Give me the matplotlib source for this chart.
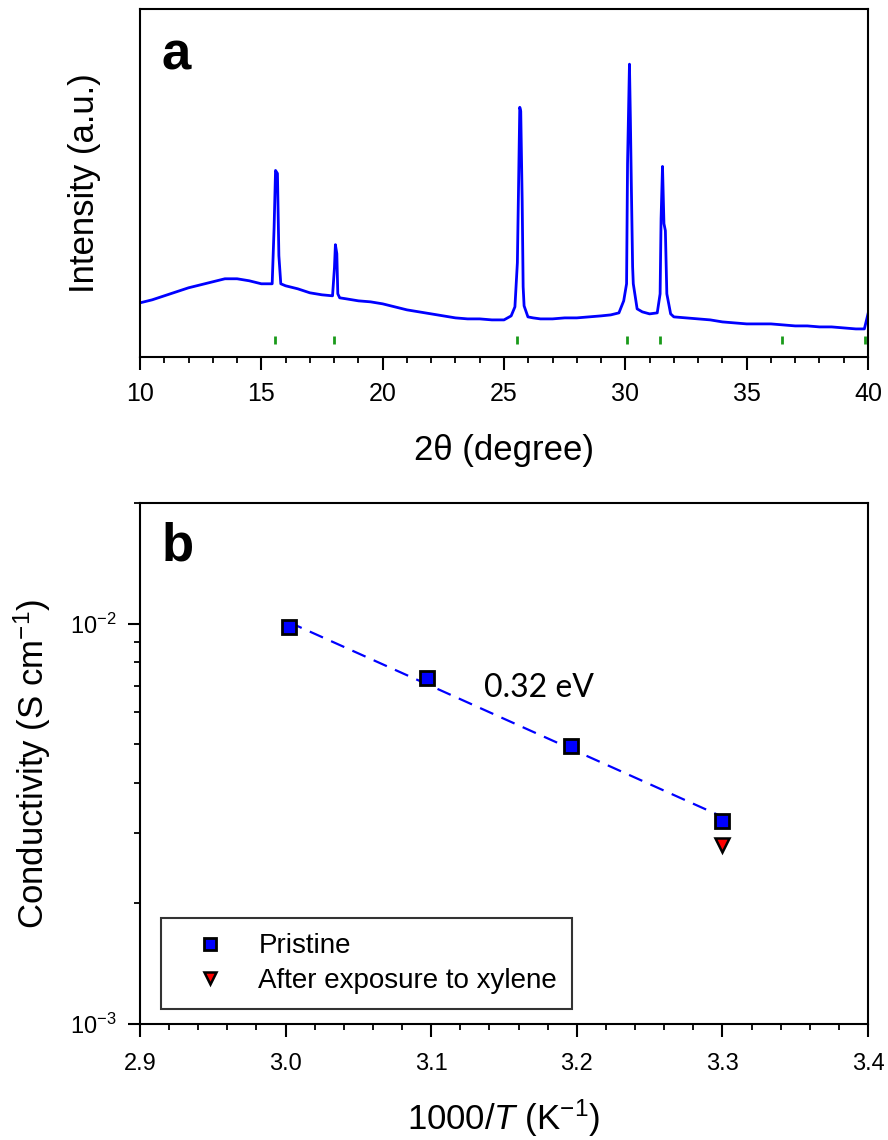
import numpy as np
import matplotlib
matplotlib.use('Agg')
import matplotlib.pyplot as plt
from matplotlib.ticker import MultipleLocator, LogLocator, NullFormatter

plt.rcParams['font.family'] = ['Liberation Sans', 'DejaVu Sans']
plt.rcParams['mathtext.fontset'] = 'custom'
plt.rcParams['mathtext.rm'] = 'Liberation Sans'
plt.rcParams['mathtext.it'] = 'Liberation Sans:italic'
plt.rcParams['mathtext.bf'] = 'Liberation Sans:bold'

# XRD pattern (arbitrary units)
two_theta = [10.0, 10.5, 11.0, 11.5, 12.0, 12.5, 13.0, 13.5, 14.0, 14.5, 15.0,
             15.447, 15.526, 15.585, 15.664, 15.723, 15.802, 16.0, 16.5, 17.0, 17.5,
             17.934, 18.013, 18.052, 18.111, 18.151, 18.23, 18.5, 19.0, 19.5, 20.0,
             20.5, 21.0, 21.5, 22.0, 22.5, 23.0, 23.5, 24.0, 24.5, 25.0,
             25.295, 25.45, 25.551, 25.65, 25.69, 25.749, 25.789, 25.828, 25.986,
             26.2, 26.5, 27.0, 27.5, 28.0, 28.5, 29.0, 29.4,
             29.736, 29.933, 30.051, 30.091, 30.17, 30.209, 30.249, 30.3, 30.328, 30.486,
             30.7, 31.0, 31.315, 31.433, 31.473, 31.532, 31.591, 31.65, 31.71, 31.867,
             32.0, 32.5, 33.0, 33.5, 34.0, 34.5, 35.0, 35.5, 36.0, 36.5, 37.0, 37.5,
             38.0, 38.5, 39.0, 39.5, 39.85, 40.0]
intensity = [54, 57, 61, 65, 69, 72, 75, 78, 78, 76, 73,
             73, 129, 186, 183, 101, 73, 71, 68, 64, 62,
             61, 89, 112, 103, 63, 59, 58, 56, 55, 53,
             50, 47, 45, 43, 41, 39, 38, 38, 37, 37,
             41, 50, 94, 249, 245, 156, 70, 51, 40,
             39, 38, 38, 39, 39, 40, 41, 42,
             44, 56, 73, 193, 292, 236, 169, 90, 73, 48,
             45, 43, 44, 63, 138, 190, 133, 126, 63, 43,
             40, 39, 38, 37, 35, 34, 33, 33, 33, 32, 31, 31,
             30, 30, 29, 28, 28, 43]
ref_peaks = [15.57, 18.01, 25.55, 30.05, 31.43, 36.45, 39.86]

# Conductivity data
inv_T = [3.002, 3.097, 3.196, 3.300]
sigma_pristine = [9.8e-3, 7.3e-3, 4.95e-3, 3.22e-3]
inv_T_xylene = [3.300]
sigma_xylene = [2.80e-3]

W, H = 888, 1140
fig = plt.figure(figsize=(W / 100, H / 100), dpi=100)

def px_axes(l, t, r, b):
    return fig.add_axes([l / W, 1 - b / H, (r - l) / W, (b - t) / H])

# ---- panel a ----
ax1 = px_axes(140, 9, 868, 357)
ax1.plot(two_theta, intensity, color='#0000ff', lw=2.0)
ax1.vlines(ref_peaks, 13, 21, color='#1a9a1a', lw=2)
ax1.set_xlim(10, 40)
ax1.set_ylim(0, 347)
ax1.set_yticks([])
ax1.xaxis.set_major_locator(MultipleLocator(5))
ax1.xaxis.set_minor_locator(MultipleLocator(1))
ax1.tick_params(axis='x', which='major', direction='out', length=9, width=1.5,
                labelsize=18, pad=9)
ax1.tick_params(axis='x', which='minor', direction='out', length=4, width=1.3)
ax1.set_xlabel('2θ (degree)', fontsize=25, labelpad=20)
ax1.set_ylabel('Intensity (a.u.)', fontsize=25, labelpad=28)
ax1.text(0.029, 0.825, 'a', transform=ax1.transAxes, fontsize=38,
         fontweight='bold', ha='left', va='baseline')

# ---- panel b ----
ax2 = px_axes(140, 503, 868, 1024)
coef = np.polyfit(inv_T, np.log10(sigma_pristine), 1)
xfit = np.array([inv_T[0], inv_T[-1]])
ax2.plot(xfit, 10 ** np.polyval(coef, xfit), color='#0000ff', lw=1.6,
         dashes=(6.5, 4))
ax2.plot(inv_T, sigma_pristine, 's', color='#0000ff', mec='black', mew=2,
         ms=10, ls='none', label='Pristine')
ax2.plot(inv_T_xylene, sigma_xylene, 'v', color='#ff0000', mec='black', mew=1.8,
         ms=10, ls='none', label='After exposure to xylene')
ax2.set_yscale('log')
ax2.set_xlim(2.9, 3.4)
ax2.set_ylim(1e-3, 2e-2)
ax2.xaxis.set_major_locator(MultipleLocator(0.1))
ax2.xaxis.set_minor_locator(MultipleLocator(0.02))
ax2.yaxis.set_major_locator(LogLocator(base=10))
ax2.yaxis.set_minor_locator(LogLocator(base=10, subs=np.arange(2, 10)))
ax2.yaxis.set_minor_formatter(NullFormatter())
ax2.tick_params(axis='both', which='major', direction='out', length=9, width=1.5,
                labelsize=17, pad=12)
ax2.tick_params(axis='both', which='minor', direction='out', length=4, width=1.3)
ax2.tick_params(axis='y', which='major', labelsize=17, pad=8)
ax2.set_xlabel('1000/$T$ (K$^{-1}$)', fontsize=25, labelpad=16)
ax2.set_ylabel('Conductivity (S cm$^{-1}$)', fontsize=25, labelpad=12)
ax2.text(0.029, 0.89, 'b', transform=ax2.transAxes, fontsize=38,
         fontweight='bold', ha='left', va='baseline')
ax2.text(3.174, 6.9e-3, '0.32 eV', fontsize=23, family='Lato',
         ha='center', va='center')
leg = ax2.legend(loc='lower left', bbox_to_anchor=(0.029, 0.029), borderaxespad=0,
                 fontsize=20, frameon=True, fancybox=False, edgecolor='black',
                 borderpad=0.55, handlelength=2.4, handletextpad=0.55,
                 labelspacing=0.3, markerscale=0.8)
leg.get_frame().set_linewidth(1.5)

for ax in (ax1, ax2):
    for s in ax.spines.values():
        s.set_linewidth(1.5)

fig.savefig('out.png', dpi=100)
